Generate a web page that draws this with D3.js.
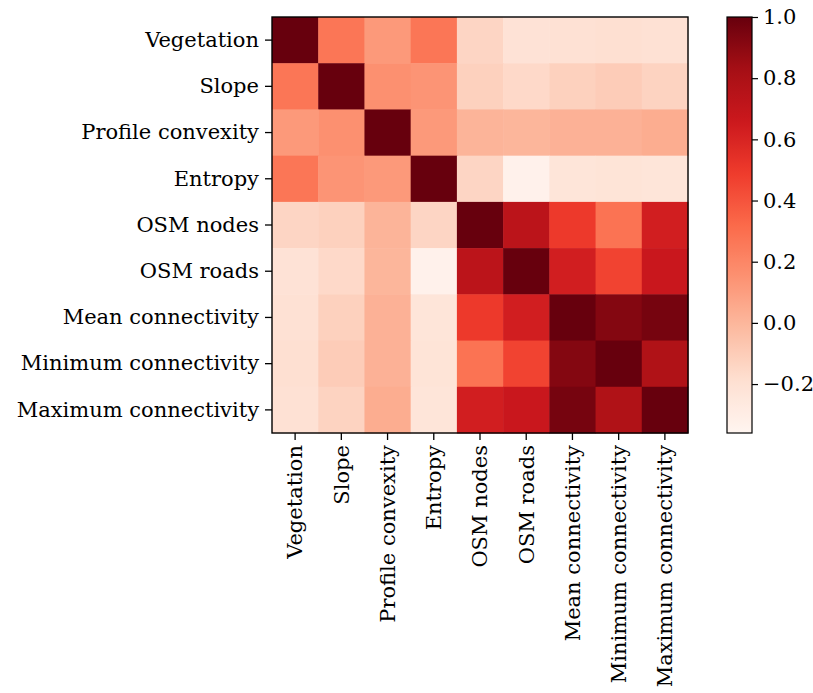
<!DOCTYPE html>
<html>
<head>
<meta charset="utf-8">
<script src="https://cdn.jsdelivr.net/npm/d3@7"></script>
<style>
  body { margin: 0; background: #fff; }
  text { font-family: "DejaVu Serif", serif; fill: #000; }
</style>
</head>
<body>
<svg id="chart" width="813" height="693"></svg>
<script>
// Variables in the correlation matrix (rows and columns share the order)
const variables = [
  "Vegetation", "Slope", "Profile convexity", "Entropy", "OSM nodes",
  "OSM roads", "Mean connectivity", "Minimum connectivity", "Maximum connectivity"
];

// Correlation rows, one per variable
const rowVegetation = [1.00, 0.27, 0.12, 0.27, -0.14, -0.21, -0.20, -0.19, -0.20];
const rowSlope      = [0.27, 1.00, 0.16, 0.14, -0.12, -0.16, -0.12, -0.10, -0.13];
const rowProfile    = [0.12, 0.16, 1.00, 0.12, 0.01, 0.00, 0.02, 0.02, 0.04];
const rowEntropy    = [0.27, 0.14, 0.12, 1.00, -0.14, -0.33, -0.23, -0.22, -0.23];
const rowOsmNodes   = [-0.14, -0.12, 0.01, -0.14, 1.00, 0.73, 0.50, 0.28, 0.63];
const rowOsmRoads   = [-0.21, -0.16, 0.00, -0.33, 0.73, 1.00, 0.63, 0.46, 0.67];
const rowMeanConn   = [-0.20, -0.12, 0.02, -0.23, 0.50, 0.63, 1.00, 0.92, 0.96];
const rowMinConn    = [-0.19, -0.10, 0.02, -0.22, 0.28, 0.46, 0.92, 1.00, 0.78];
const rowMaxConn    = [-0.20, -0.13, 0.04, -0.23, 0.63, 0.67, 0.96, 0.78, 1.00];

const matrix = [rowVegetation, rowSlope, rowProfile, rowEntropy, rowOsmNodes,
                rowOsmRoads, rowMeanConn, rowMinConn, rowMaxConn];

// Colour bar range and tick values
const colorDomain = [-0.36, 1.0];
const colorTicks = [-0.2, 0.0, 0.2, 0.4, 0.6, 0.8, 1.0];

// Nine-step "Reds" palette, interpolated linearly between steps
const redsSteps = ["#fff5f0", "#fee0d2", "#fcbba1", "#fc9272", "#fb6a4a",
                   "#ef3b2c", "#cb181d", "#a50f15", "#67000d"];

const svg = d3.select("#chart");
const fontSize = 21;

const plot = { left: 272, top: 17, size: 416 };
const x = d3.scaleBand().domain(variables).range([plot.left, plot.left + plot.size]);
const y = d3.scaleBand().domain(variables).range([plot.top, plot.top + plot.size]);
const color = d3.scaleLinear()
  .domain(redsSteps.map((_, i) => colorDomain[0] + i / (redsSteps.length - 1) * (colorDomain[1] - colorDomain[0])))
  .range(redsSteps)
  .interpolate(d3.interpolateRgb)
  .clamp(true);

// Heatmap cells
const cells = [];
matrix.forEach((row, i) => row.forEach((v, j) => cells.push({ r: variables[i], c: variables[j], v })));
svg.append("g").selectAll("rect").data(cells).join("rect")
  .attr("x", d => x(d.c))
  .attr("y", d => y(d.r))
  .attr("width", x.bandwidth() + 0.5)
  .attr("height", y.bandwidth() + 0.5)
  .attr("fill", d => color(d.v));

// Axes
const yAxis = svg.append("g")
  .attr("transform", `translate(${plot.left},0)`)
  .call(d3.axisLeft(y).tickSize(7).tickPadding(6));
const xAxis = svg.append("g")
  .attr("transform", `translate(0,${plot.top + plot.size})`)
  .call(d3.axisBottom(x).tickSize(7).tickPadding(6));

[yAxis, xAxis].forEach(g => {
  g.select(".domain").remove();
  g.selectAll(".tick line").attr("stroke", "#000").attr("stroke-width", 1.3);
  g.selectAll("text").style("font-size", fontSize + "px").attr("font-family", null);
});
xAxis.selectAll(".tick text")
  .attr("transform", "rotate(-90)")
  .attr("text-anchor", "end")
  .attr("x", -12)
  .attr("y", 0)
  .attr("dy", "0.35em");

// Frame
svg.append("rect")
  .attr("x", plot.left).attr("y", plot.top)
  .attr("width", plot.size).attr("height", plot.size)
  .attr("fill", "none").attr("stroke", "#000").attr("stroke-width", 1.4);

// Colour bar
const bar = { left: 727, width: 25, top: 17, height: 416 };
const cbScale = d3.scaleLinear().domain(colorDomain).range([bar.top + bar.height, bar.top]);
const grad = svg.append("defs").append("linearGradient")
  .attr("id", "cbGrad").attr("x1", 0).attr("y1", 1).attr("x2", 0).attr("y2", 0);
d3.range(0, 1.0001, 0.02).forEach(t => {
  grad.append("stop").attr("offset", t)
    .attr("stop-color", color(colorDomain[0] + t * (colorDomain[1] - colorDomain[0])));
});
svg.append("rect")
  .attr("x", bar.left).attr("y", bar.top)
  .attr("width", bar.width).attr("height", bar.height)
  .attr("fill", "url(#cbGrad)").attr("stroke", "#000").attr("stroke-width", 1.2);

const cbAxis = svg.append("g")
  .attr("transform", `translate(${bar.left + bar.width},0)`)
  .call(d3.axisRight(cbScale).tickValues(colorTicks).tickSize(6).tickPadding(5)
    .tickFormat(d => d3.format(".1f")(d).replace("-", "\u2212")));
cbAxis.select(".domain").remove();
cbAxis.selectAll(".tick line").attr("stroke", "#000").attr("stroke-width", 1.2);
cbAxis.selectAll("text").style("font-size", fontSize + "px").attr("font-family", null);
</script>
</body>
</html>
